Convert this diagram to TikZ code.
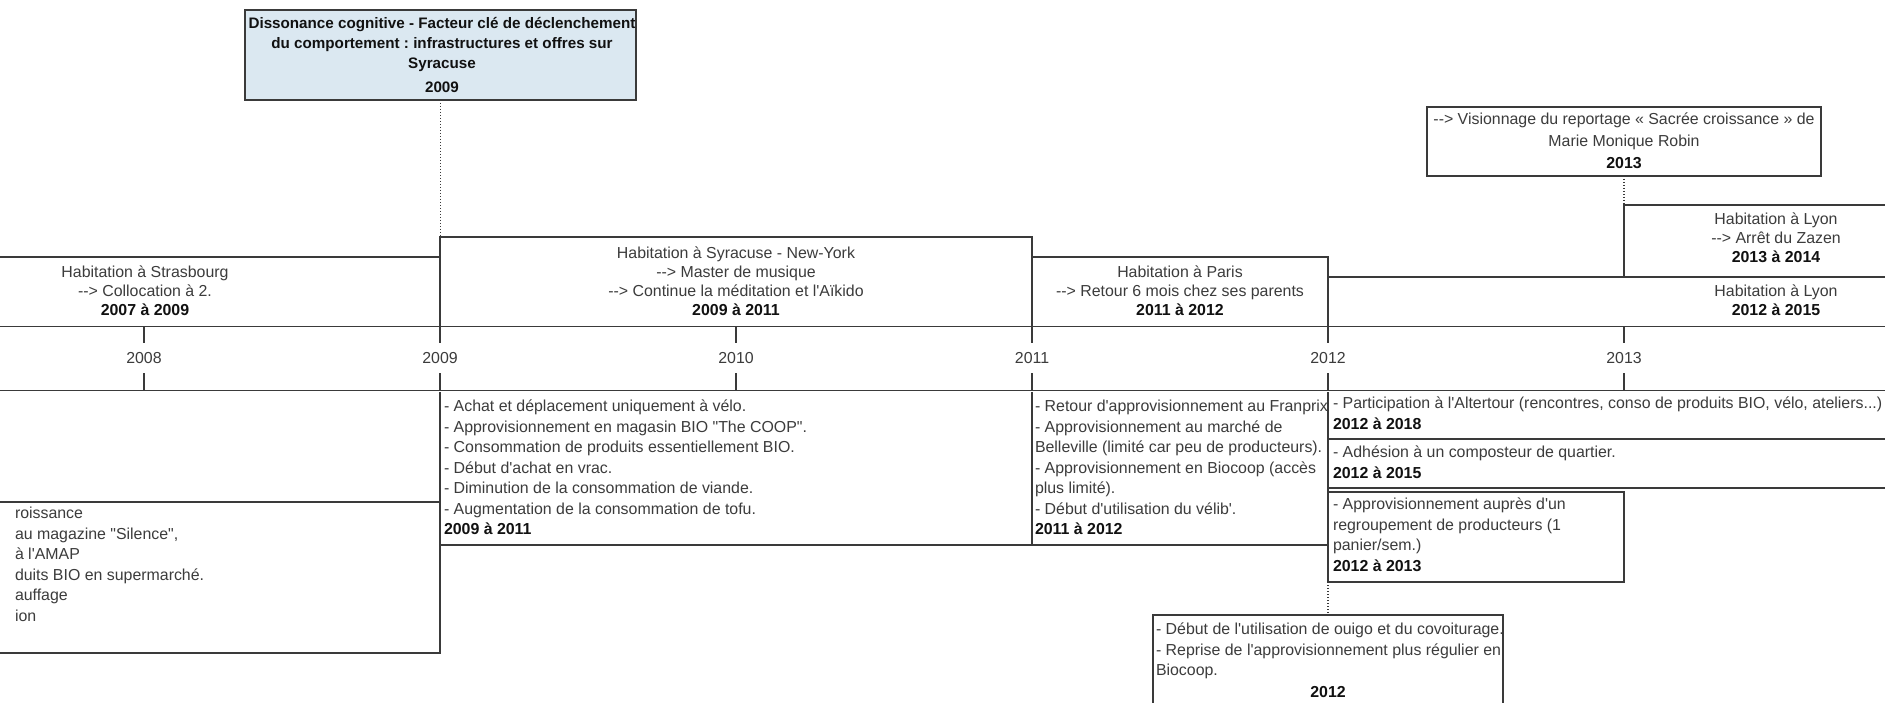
\documentclass[tikz,border=0pt]{standalone}
\usepackage{fontspec}
\newfontfamily\lib{Liberation Sans}
\frenchspacing
\newcommand\topfont{\lib\fontsize{15.9}{19}\selectfont\frenchspacing}
\newcommand\botfont{\lib\fontsize{15.9}{20.5}\selectfont\frenchspacing}
\newcommand\visfont{\lib\fontsize{15.9}{22}\selectfont\frenchspacing}
\newcommand\disfont{\lib\bfseries\fontsize{15.2}{20}\selectfont\frenchspacing}
\newcommand\yb[1]{\textcolor{boldc}{\textbf{#1}}}
\definecolor{linec}{HTML}{3A3A3A}
\definecolor{txtc}{HTML}{3C3C3C}
\definecolor{boldc}{HTML}{111111}
\definecolor{bluefill}{HTML}{DBE8F1}
\begin{document}
\begin{tikzpicture}[x=1pt,y=-1pt,
  box/.style={draw=linec, line width=1.3pt, inner sep=0pt, outer sep=0pt, anchor=north west},
  ctext/.style={inner sep=0pt, outer sep=0pt, anchor=north, align=center, font=\topfont, text=txtc},
  ltext/.style={inner sep=0pt, outer sep=0pt, anchor=north west, align=left, font=\botfont, text=txtc},
  yearlbl/.style={inner sep=0pt, outer sep=0pt, font=\botfont, text=txtc},
  axisline/.style={draw=linec, line width=1pt, double=white, double distance=0.8pt},
  tickline/.style={draw=linec, line width=1.2pt},
  conn/.style={draw=linec, line width=1.1pt, dash pattern=on 1.4pt off 1.6pt}]
\useasboundingbox (0,0) rectangle (1885,703);
\clip (0,0) rectangle (1885,703);
\fill[white] (0,0) rectangle (1885,703);

% ---- boxes above the timeline
\node[box, fill=bluefill, minimum width=391pt, minimum height=90pt] (diss) at (245,10) {};
\node[box, minimum width=394pt, minimum height=69pt] (vis) at (1427,107) {};
\node[box, minimum width=592pt, minimum height=70pt] (strb) at (-152,257) {};
\node[box, minimum width=592pt, minimum height=90pt] (syr) at (440,237) {};
\node[box, minimum width=296pt, minimum height=70pt] (par) at (1032,257) {};
\node[box, minimum width=296pt, minimum height=72pt] (ly1314) at (1624,205) {};
\node[box, minimum width=888pt, minimum height=50pt] (ly1215) at (1328,277) {};

% ---- boxes below the timeline
\node[box, minimum width=740pt, minimum height=151pt] (leftb) at (-300,502) {};
\node[box, minimum width=592pt, minimum height=154pt] (syrb) at (440,391) {};
\node[box, minimum width=296pt, minimum height=154pt] (parb) at (1032,391) {};
\node[box, minimum width=1776pt, minimum height=48pt] (alt) at (1328,391) {};
\node[box, minimum width=888pt, minimum height=49pt] (comp) at (1328,439) {};
\node[box, minimum width=296pt, minimum height=90pt] (prod) at (1328,492) {};
\node[box, minimum width=350pt, minimum height=110pt] (ouigo) at (1153,615) {};

% ---- timeline
\draw[axisline] (-10,327) -- (1900,327);
\draw[axisline] (-10,391) -- (1900,391);
\foreach \xx in {144,440,736,1032,1328,1624} {
  \draw[tickline] (\xx,327) -- (\xx,343);
  \draw[tickline] (\xx,373) -- (\xx,391);
}
\foreach \yy [count=\i] in {2008,2009,2010,2011,2012,2013} {
  \node[yearlbl] (year\yy) at ({144+296*(\i-1)},358) {\yy};
}

% ---- dotted connectors
\draw[conn] (diss.south) -- (diss.south |- syr.north);
\draw[conn] (vis.south) -- (ly1314.north west);
\draw[conn] (prod.south west) -- (prod.south west |- ouigo.north);

% ---- texts above
\node[ctext, font=\disfont, text=boldc] (tdiss) at (442,14.8) {\strut Dissonance cognitive - Facteur clé de déclenchement\\du comportement : infrastructures et offres sur\\Syracuse\\[4pt]2009};
\node[ctext, font=\visfont] (tvis) at (1624,109.3) {\strut --> Visionnage du reportage « Sacrée croissance » de\\Marie Monique Robin\\\yb{2013}};
\node[ctext] (tstrb) at (145,264.4) {\strut Habitation à Strasbourg\\--> Collocation à 2.\\\yb{2007 à 2009}};
\node[ctext] (tsyr) at (736,245.4) {\strut Habitation à Syracuse - New-York\\--> Master de musique\\--> Continue la méditation et l'Aïkido\\\yb{2009 à 2011}};
\node[ctext] (tpar) at (1180,264.4) {\strut Habitation à Paris\\--> Retour 6 mois chez ses parents\\\yb{2011 à 2012}};
\node[ctext] (tly1) at (1776,211.4) {\strut Habitation à Lyon\\--> Arrêt du Zazen\\\yb{2013 à 2014}};
\node[ctext] (tly2) at (1776,283.4) {\strut Habitation à Lyon\\\yb{2012 à 2015}};

% ---- texts below
\node[ltext] (tleft) at (15,504.4) {\strut roissance\\au magazine "Silence",\\à l'AMAP\\duits BIO en supermarché.\\auffage\\ion};
\node[ltext] (tsyrb) at (444,397.4) {\strut - Achat et déplacement uniquement à vélo.\\- Approvisionnement en magasin BIO "The COOP".\\- Consommation de produits essentiellement BIO.\\- Début d'achat en vrac.\\- Diminution de la consommation de viande.\\- Augmentation de la consommation de tofu.\\\yb{2009 à 2011}};
\node[ltext] (tparb) at (1035,397.4) {\strut - Retour d'approvisionnement au Franprix\\- Approvisionnement au marché de\\Belleville (limité car peu de producteurs).\\- Approvisionnement en Biocoop (accès\\plus limité).\\- Début d'utilisation du vélib'.\\\yb{2011 à 2012}};
\node[ltext] (talt) at (1333,394.4) {\strut - Participation à l'Altertour (rencontres, conso de produits BIO, vélo, ateliers...)\\\yb{2012 à 2018}};
\node[ltext] (tcomp) at (1333,443.4) {\strut - Adhésion à un composteur de quartier.\\\yb{2012 à 2015}};
\node[ltext] (tprod) at (1333,495.4) {\strut - Approvisionnement auprès d'un\\regroupement de producteurs (1\\panier/sem.)\\\yb{2012 à 2013}};
\node[ltext] (touigo) at (1156,620.4) {\strut - Début de l'utilisation de ouigo et du covoiturage.\\- Reprise de l'approvisionnement plus régulier en\\Biocoop.};
\node[yearlbl, text=boldc] (touigoy) at (1328,692) {\textbf{2012}};
\end{tikzpicture}
\end{document}
